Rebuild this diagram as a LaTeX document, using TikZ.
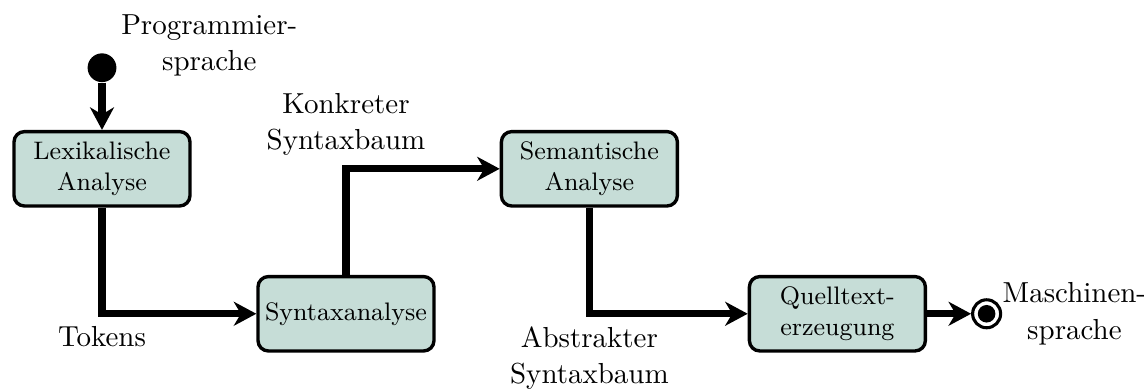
\documentclass[tikz,border=0pt]{standalone}
\usepackage{tikz}
\usetikzlibrary{arrows.meta, positioning, calc}
\definecolor{phase_green}{HTML}{C6DDD7}
\colorlet{phasefill}{phase_green}
\tikzset{
  phase/.style={rectangle,rounded corners=.13cm,draw=black,line width=1.2pt,fill=phasefill,font=\small,align=center,minimum width=2.2cm,minimum height=.93cm,inner sep=.05cm},
  flow/.style={line width=2.5pt,-{Stealth[length=8pt,width=8.5pt,inset=2.5pt]}},
  startdot/.style={circle,fill=black,inner sep=0pt,minimum size=.36cm},
  enddot/.style={circle,draw=black,line width=1.1pt,fill=white,inner sep=0pt,minimum size=.35cm,
    path picture={\fill[black] (path picture bounding box.center) circle (.11cm);}},
  note/.style={align=center,font=\fontsize{10.3}{13}\selectfont},
}

\begin{document}
\begin{tikzpicture}
	    \useasboundingbox (0,0) rectangle (14.3,4.85);
	    \node[phase] (lex) at (1.275,2.74) {Lexikalische\\Analyse};
	    \node[phase,below=0.84cm of lex,xshift=3.05cm] (syn) {Syntaxanalyse};
	    \node[phase,right=3.85cm of lex] (sem) {Semantische\\Analyse};
	    \node[phase,right=3.9cm of syn] (gen) {Quelltext-\\erzeugung};
	    \node[startdot,above=0.59cm of lex] (start) {};
	    \node[enddot,right=0.55cm of gen] (end) {};
	    \node[note,right=-2pt of start,yshift=.28cm] (srclbl) {Programmier-\\sprache};
	    \node[note,inner sep=0pt,right=0pt of end] (tgtlbl) {Maschinen-\\sprache};
	    \draw[flow] (start) -- (lex);
	    \draw[flow] (lex.south) |- node[note,below] {Tokens} (syn.west);
	    \draw[flow] (syn.north) |- node[note,above] {Konkreter\\Syntaxbaum} (sem.west);
	    \draw[flow] (sem.south) |- node[note,below] {Abstrakter\\Syntaxbaum} (gen.west);
	    \draw[flow] (gen) -- (end);
	\end{tikzpicture}
\end{document}
